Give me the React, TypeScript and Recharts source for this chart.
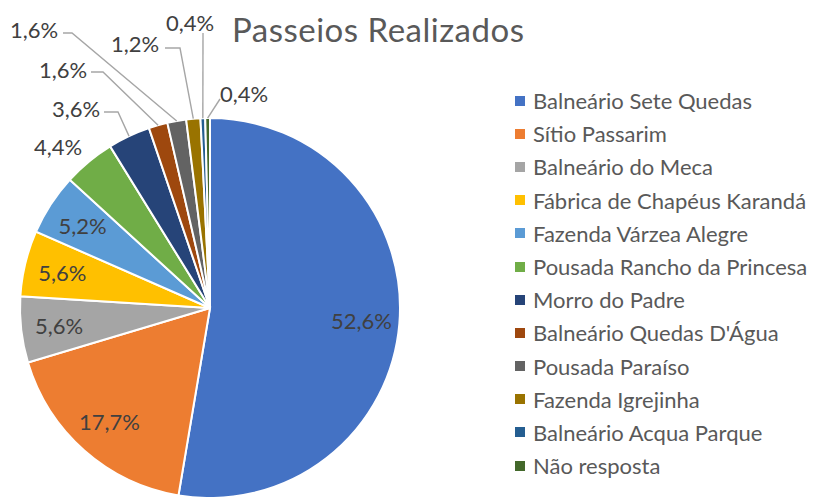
import { PieChart, Pie, Cell, Legend } from "recharts";

const NAMES = [
  "Balneário Sete Quedas",
  "Sítio Passarim",
  "Balneário do Meca",
  "Fábrica de Chapéus Karandá",
  "Fazenda Várzea Alegre",
  "Pousada Rancho da Princesa",
  "Morro do Padre",
  "Balneário Quedas D'Água",
  "Pousada Paraíso",
  "Fazenda Igrejinha",
  "Balneário Acqua Parque",
  "Não resposta",
];
const SHARES = [52.6, 17.7, 5.6, 5.6, 5.2, 4.4, 3.6, 1.6, 1.6, 1.2, 0.4, 0.4];
const COLORS = [
  "#4472C4", "#ED7D31", "#A5A5A5", "#FFC000", "#5B9BD5", "#70AD47",
  "#264478", "#9E480E", "#636363", "#997300", "#255E91", "#43682B",
];

const data = NAMES.map((name, i) => ({ name, value: SHARES[i] }));

const FONT = "Lato, 'Open Sans', sans-serif";
const RAD = Math.PI / 180;
const fmt = (v: number) => v.toFixed(1).replace(".", ",") + "%";

// small slices get hand-placed labels, offsets from the pie centre
type Pt = [number, number];
const OUTSIDE: Record<number, { text: Pt; from?: Pt; elbow?: Pt }> = {
  5: { text: [-152, -162] },
  6: { text: [-134, -200], from: [-106, -196], elbow: [-92, -196] },
  7: { text: [-147, -239], from: [-119, -236], elbow: [-107, -236] },
  8: { text: [-176, -279], from: [-147, -275], elbow: [-138, -275] },
  9: { text: [-75, -265], from: [-45, -260], elbow: [-30, -260] },
  10: { text: [-20, -286], from: [-7, -275] },
  11: { text: [34, -215], from: [10, -209] },
};

function renderLabel(props: any) {
  const { cx, cy, midAngle, outerRadius, index, value } = props;
  const cos = Math.cos(-midAngle * RAD);
  const sin = Math.sin(-midAngle * RAD);
  const o = OUTSIDE[index];
  const style = { fontFamily: FONT, fontSize: 22, fill: "#404040" };
  if (!o) {
    const r = outerRadius * 0.8;
    return (
      <text x={cx + r * cos} y={cy + r * sin} textAnchor="middle" dominantBaseline="central" style={style}>
        {fmt(value)}
      </text>
    );
  }
  const ex = cx + outerRadius * cos;
  const ey = cy + outerRadius * sin;
  const pts: Pt[] = [];
  if (o.from) pts.push([cx + o.from[0], cy + o.from[1]]);
  if (o.elbow) pts.push([cx + o.elbow[0], cy + o.elbow[1]]);
  pts.push([ex, ey]);
  return (
    <g>
      {o.from && (
        <polyline points={pts.map((p) => p.join(",")).join(" ")} fill="none" stroke="#A6A6A6" strokeWidth={1.4} />
      )}
      <text x={cx + o.text[0]} y={cy + o.text[1]} textAnchor="middle" dominantBaseline="central" style={style}>
        {fmt(value)}
      </text>
    </g>
  );
}

function LegendList() {
  return (
    <div style={{ fontFamily: FONT, fontSize: 22, color: "#595959" }}>
      {NAMES.map((n, i) => (
        <div key={n} style={{ display: "flex", alignItems: "center", height: 33.2, whiteSpace: "nowrap" }}>
          <span style={{ width: 10, height: 10, background: COLORS[i], marginRight: 8, flexShrink: 0 }} />
          <span>{n}</span>
        </div>
      ))}
    </div>
  );
}

export default function App() {
  return (
    <div style={{ position: "absolute", left: 0, top: 0, width: 813, height: 497, background: "#fff", overflow: "hidden" }}>
      <div
        style={{
          position: "absolute", left: 232, top: 9, fontFamily: FONT, fontSize: 33,
          lineHeight: "40px", color: "#595959", whiteSpace: "nowrap", letterSpacing: 0.5,
        }}
      >
        Passeios Realizados
      </div>
      <PieChart width={813} height={497} margin={{ top: 0, right: 0, bottom: 0, left: 0 }}>
        <Pie
          data={data}
          dataKey="value"
          nameKey="name"
          cx={210}
          cy={308}
          outerRadius={190}
          startAngle={90}
          endAngle={-270}
          stroke="#fff"
          strokeWidth={2}
          label={renderLabel}
          labelLine={false}
          isAnimationActive={false}
        >
          {data.map((_, i) => (
            <Cell key={i} fill={COLORS[i]} />
          ))}
        </Pie>
        <Legend
          layout="vertical"
          align="right"
          verticalAlign="top"
          content={() => <LegendList />}
          wrapperStyle={{ left: 515, top: 84, width: 298 }}
        />
      </PieChart>
    </div>
  );
}
